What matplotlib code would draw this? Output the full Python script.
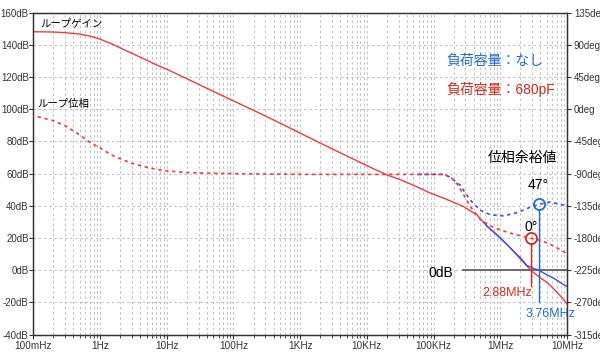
import matplotlib
matplotlib.use("Agg")
import matplotlib.pyplot as plt
from matplotlib.ticker import FixedLocator, NullFormatter, LogLocator

plt.rcParams['font.family'] = ['Liberation Sans', 'Noto Sans CJK JP', 'DejaVu Sans']

# ---------------- data ----------------
gain_freq = [0.1, 0.2, 0.3, 0.5, 0.7, 1, 1.5, 2, 3, 5, 7, 10, 20, 50, 100, 200, 500,
             1e3, 2e3, 5e3, 1e4, 2e4, 3.16e4, 5e4, 8.9e4, 1.58e5, 2.8e5, 4.5e5, 6.3e5,
             8.9e5, 1.26e6, 1.58e6, 2e6, 2.88e6, 4e6, 5e6, 6.3e6, 8e6, 1e7]
gain_680p = [148.2, 148.0, 147.6, 146.7, 145.5, 143.6, 140.6, 138.2, 134.8, 130.5, 127.6,
             124.9, 119.0, 111.1, 105.2, 99.4, 91.4, 85.2, 79.0, 71.0, 65.0, 59.2, 56.3,
             52.8, 48.0, 44.0, 39.6, 34.3, 27.5, 22.0, 16.0, 11.8, 7.0, 0.0, -4.8, -7.5,
             -11.5, -16.0, -20.8]

gain_none_freq = [5.6e5, 6.3e5, 8.9e5, 1.26e6, 1.58e6, 2e6, 2.5e6, 3.16e6, 3.76e6, 5e6,
                  6.3e6, 8.9e6, 1e7]
gain_none = [30.0, 27.5, 22.0, 16.0, 11.8, 7.8, 3.0, 1.2, 0.0, -2.8, -4.9, -9.0, -10.0]

phase_freq = [0.1, 0.15, 0.2, 0.3, 0.5, 0.7, 1, 1.5, 2, 3, 5, 7, 10, 20, 50, 100, 1e3,
              1e4, 1e5, 1.41e5, 1.78e5, 2.24e5, 2.8e5, 3.55e5, 5e5, 7.1e5, 8.9e5, 1.58e6,
              2.88e6, 4.5e6, 6.3e6, 8.9e6, 1e7]
phase_680p = [-9, -13, -16, -23, -36, -46, -54, -64, -69, -75.5, -81, -84, -86, -88.5,
              -89.5, -90, -91, -91, -91, -91, -94, -104, -119, -136, -154, -163, -167,
              -174.5, -180, -185, -191, -199, -202]

phase_none_freq = [6e4, 1e5, 1.41e5, 1.78e5, 2.5e5, 3.55e5, 5e5, 7.1e5, 1.12e6,
                   1.78e6, 2.8e6, 3.76e6, 5.6e6, 7.9e6, 1e7]
phase_none = [-91, -91, -91, -95, -106, -127, -141, -147.5, -149, -144.5, -137,
              -133, -129.5, -133, -135]

# crossover / phase margin points
fc_680p, pm_680p = 2.88e6, -180
fc_none, pm_none = 3.76e6, -133

db_ticks = list(range(-40, 161, 20))
deg_ticks = list(range(-315, 136, 45))
freq_ticks = [0.1, 1, 10, 100, 1e3, 1e4, 1e5, 1e6, 1e7]
freq_labels = ['100mHz', '1Hz', '10Hz', '100Hz', '1KHz', '10KHz', '100KHz', '1MHz', '10MHz']

RED = '#f03c3c'
BLUE = '#3a4ef0'
RED_T = '#d52b1e'
BLUE_T = '#1f6fd0'
GRID = '#c4c4c4'
AX = '#333333'

# ---------------- figure ----------------
fig = plt.figure(figsize=(6.0, 3.53), dpi=100)
ax = fig.add_axes([0.0555, 0.052, 0.8895, 0.912])
ax.set_xscale('log')
ax.set_xlim(0.1, 1e7)
ax.set_ylim(-40, 160)

ax.xaxis.set_major_locator(FixedLocator(freq_ticks))
ax.set_xticklabels(freq_labels)
ax.xaxis.set_minor_locator(LogLocator(base=10, subs=range(2, 10), numticks=100))
ax.xaxis.set_minor_formatter(NullFormatter())
ax.set_yticks(db_ticks)
ax.set_yticklabels([f'{v}dB' for v in db_ticks])

ax.grid(True, which='major', color=GRID, linestyle=(0, (2.5, 2.5)), linewidth=0.75)
ax.grid(True, which='minor', axis='x', color=GRID, linestyle=(0, (2.5, 2.5)), linewidth=0.75)
ax.set_axisbelow(True)

ax.tick_params(axis='y', which='major', direction='out', length=3, width=0.8,
               labelsize=7, colors=AX, pad=0.3)
ax.tick_params(axis='x', which='major', direction='out', length=3, width=0.8,
               labelsize=7.2, colors=AX, pad=1.5)
ax.tick_params(axis='x', which='minor', direction='out', length=2, width=0.6, colors=AX)
for s in ax.spines.values():
    s.set_color(AX)
    s.set_linewidth(0.9)

ax2 = ax.twinx()
ax2.set_ylim(-315, 135)
ax2.set_yticks(deg_ticks)
ax2.set_yticklabels([f'{v}deg' for v in deg_ticks])
ax2.tick_params(axis='y', direction='out', length=3, width=0.8, labelsize=7,
                colors=AX, pad=2)
for s in ax2.spines.values():
    s.set_color(AX)
    s.set_linewidth(0.9)

# phase curves (dotted)
ax2.plot(phase_none_freq, phase_none, color=BLUE, lw=1.2, linestyle=(0, (2, 2.2)), zorder=3)
ax2.plot(phase_freq, phase_680p, color=RED, lw=1.2, linestyle=(1.5, (2, 2.2)), zorder=3)

# gain curves
ax.plot(gain_freq, gain_680p, color=RED, lw=1.0, zorder=3)
ax.plot(gain_none_freq, gain_none, color=BLUE, lw=1.0, zorder=4)

# 0dB reference line
ax.plot([2.75e5, 1e7], [0, 0], color='#606060', lw=1.3, zorder=2)
ax.text(2.0e5, -1.5, '0dB', ha='right', va='center', fontsize=10, color='black')

# phase margin markers and verticals
ax.plot([fc_680p, fc_680p], [17, -10], color=RED_T, lw=1.0, zorder=5)
ax.plot([fc_none, fc_none], [37.7, -19.5], color=BLUE_T, lw=1.0, zorder=5)
ax2.plot([fc_680p], [pm_680p], marker='o', ms=8, mfc='none', mec=RED_T, mew=1.3,
         zorder=6, clip_on=False)
ax2.plot([fc_none], [pm_none], marker='o', ms=8, mfc='none', mec=BLUE_T, mew=1.3,
         zorder=6, clip_on=False)

ax.text(1.26e6, -14, '2.88MHz', ha='center', va='center', fontsize=9, color=RED_T)
ax.text(5.75e6, -27, '3.76MHz', ha='center', va='center', fontsize=9, color=BLUE_T,
        clip_on=False)
ax.text(3.76e6, 53, '47°', ha='center', va='center', fontsize=10, color='black')
ax.text(2.88e6, 27, '0°', ha='center', va='center', fontsize=10, color='black')

# labels
ax.text(0.126, 153.5, 'ループゲイン', ha='left', va='center', fontsize=7.5, color='black')
ax.text(0.114, 103.5, 'ループ位相', ha='left', va='center', fontsize=7.5, color='black')
ax.text(1.54e5, 130, '負荷容量：なし', ha='left', va='center', fontsize=10, color=BLUE_T)
ax.text(1.54e5, 112, '負荷容量：680pF', ha='left', va='center', fontsize=10, color=RED_T)
ax.text(6.56e5, 69.5, '位相余裕値', ha='left', va='center', fontsize=10, color='black')

fig.savefig('out.png', dpi=100)
